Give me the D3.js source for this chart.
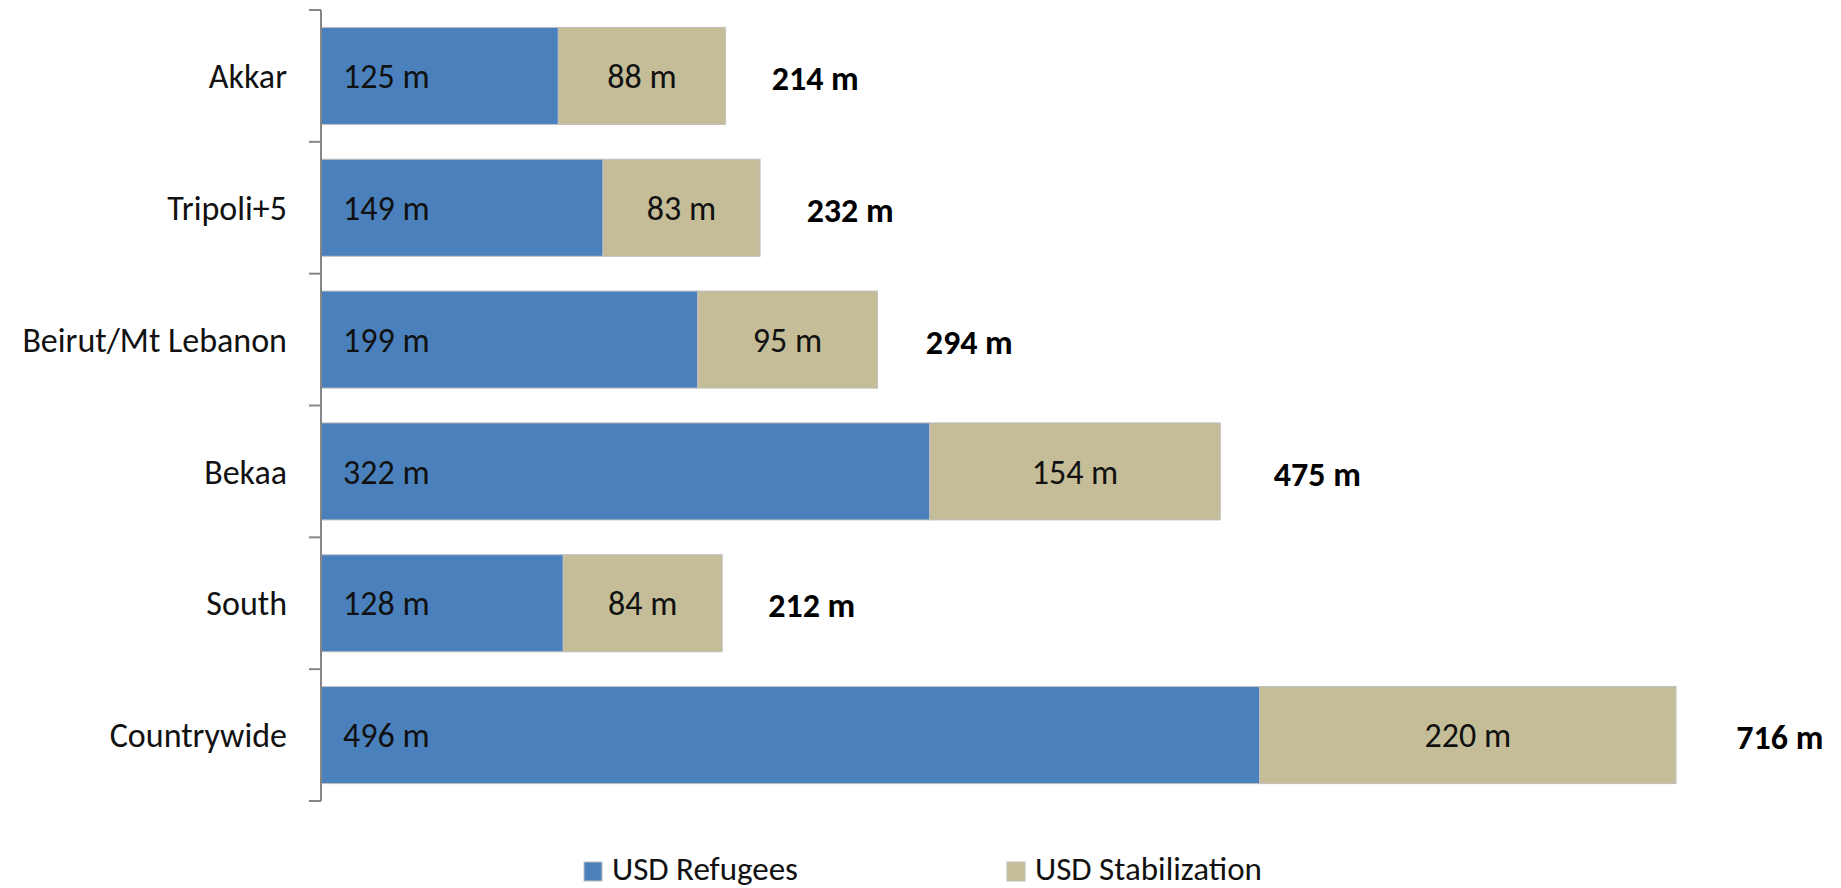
<!DOCTYPE html>
<html>
<head>
<meta charset="utf-8">
<script src="https://cdn.jsdelivr.net/npm/d3@7"></script>
<style>
  html, body { margin: 0; padding: 0; background: #fff; }
  svg { display: block; font-family: Calibri, Carlito, Lato, sans-serif; }
</style>
</head>
<body>
<svg id="chart" width="1841" height="888"></svg>
<script>
  const regions = ["Akkar", "Tripoli+5", "Beirut/Mt Lebanon", "Bekaa", "South", "Countrywide"];
  const refugees = [125.4, 149, 199, 321.6, 128, 496];
  const stabilization = [88.4, 83, 95, 153.6, 84, 220];
  const seriesNames = ["USD Refugees", "USD Stabilization"];
  const seriesColors = ["#4a81bd", "#c4bd97"];

  const fmt = (v) => `${Math.round(v)} m`;
  const fontSize = 34;

  const svg = d3.select("#chart");
  const axisX = 321;

  const x = d3.scaleLinear().domain([0, 800]).range([axisX, axisX + 800 * 1.8925]);
  const y = d3.scaleBand().domain(regions).range([10, 801]).paddingInner(0.264).paddingOuter(0.132);

  const rows = regions.map((name, i) => ({
    name,
    ref: refugees[i],
    stab: stabilization[i],
    total: refugees[i] + stabilization[i]
  }));

  // bars
  const g = svg.append("g");
  rows.forEach((d) => {
    const top = y(d.name);
    const h = y.bandwidth();
    g.append("rect")
      .attr("x", x(0)).attr("y", top)
      .attr("width", x(d.ref) - x(0)).attr("height", h)
      .attr("fill", seriesColors[0]).attr("stroke", "#bfbfbf").attr("stroke-width", 1);
    g.append("rect")
      .attr("x", x(d.ref)).attr("y", top)
      .attr("width", x(d.total) - x(d.ref)).attr("height", h)
      .attr("fill", seriesColors[1]).attr("stroke", "#bfbfbf").attr("stroke-width", 1);

    const cy = top + h / 2;
    g.append("text")
      .attr("x", x(0) + 22).attr("y", cy).attr("dy", "0.36em")
      .attr("font-size", fontSize).attr("fill", "#111")
      .text(fmt(d.ref));
    g.append("text")
      .attr("x", (x(d.ref) + x(d.total)) / 2).attr("y", cy).attr("dy", "0.36em")
      .attr("text-anchor", "middle")
      .attr("font-size", fontSize).attr("fill", "#111")
      .text(fmt(d.stab));
    g.append("text")
      .attr("x", x(d.total * 1.015) + 40).attr("y", cy + 2).attr("dy", "0.36em")
      .attr("font-size", fontSize).attr("font-weight", "bold").attr("fill", "#000")
      .text(fmt(d.total));
  });

  // category axis, ticks between categories
  const step = y.step();
  const edges = regions.map((r) => y(r) - step * y.paddingInner() / 2);
  edges.push(y(regions[regions.length - 1]) + y.bandwidth() + step * y.paddingInner() / 2);

  const axis = svg.append("g").attr("stroke", "#868686").attr("stroke-width", 2);
  axis.append("line")
    .attr("x1", axisX).attr("x2", axisX)
    .attr("y1", edges[0]).attr("y2", edges[edges.length - 1]);
  axis.selectAll(".tick")
    .data(edges)
    .join("line")
    .attr("class", "tick")
    .attr("x1", axisX - 12).attr("x2", axisX)
    .attr("y1", (d) => d).attr("y2", (d) => d);

  svg.append("g")
    .selectAll("text")
    .data(regions)
    .join("text")
    .attr("x", axisX - 34)
    .attr("y", (d) => y(d) + y.bandwidth() / 2)
    .attr("dy", "0.36em")
    .attr("text-anchor", "end")
    .attr("font-size", fontSize)
    .attr("fill", "#111")
    .text((d) => d);

  // legend
  const legendX = [584, 1007];
  const legend = svg.append("g");
  seriesNames.forEach((name, i) => {
    legend.append("rect")
      .attr("x", legendX[i]).attr("y", 862)
      .attr("width", 18).attr("height", 19)
      .attr("fill", seriesColors[i]).attr("stroke", "#bfbfbf").attr("stroke-width", 1);
    legend.append("text")
      .attr("x", legendX[i] + 28).attr("y", 880)
      .attr("font-size", 33).attr("fill", "#111")
      .text(name);
  });
</script>
</body>
</html>
